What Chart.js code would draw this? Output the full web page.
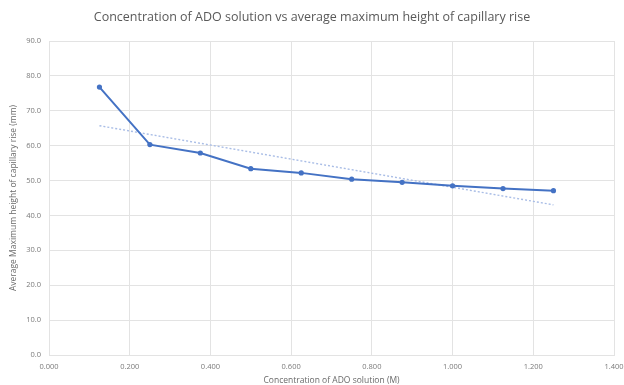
<!DOCTYPE html>
<html>
<head>
<meta charset="utf-8">
<script src="https://cdn.jsdelivr.net/npm/chart.js@4.4.1/dist/chart.umd.min.js"></script>
<style>
  html, body { margin: 0; padding: 0; background: #ffffff; }
  #wrap { width: 624px; height: 385px; }
</style>
</head>
<body>
<div id="wrap"><canvas id="chart" width="624" height="385"></canvas></div>
<script>
// Concentration of ADO solution (M)
const concentrations = [0.125, 0.25, 0.375, 0.5, 0.625, 0.75, 0.875, 1.0, 1.125, 1.25];
// Average maximum height of capillary rise (mm)
const avgHeights = [76.8, 60.3, 57.9, 53.4, 52.2, 50.4, 49.5, 48.5, 47.7, 47.1];
// Axis tick values
const xTicks = [0, 0.2, 0.4, 0.6, 0.8, 1.0, 1.2, 1.4];
const yTicks = [0, 10, 20, 30, 40, 50, 60, 70, 80, 90];

// Least-squares linear trendline through the measured points
function linearFit(xs, ys) {
  const n = xs.length;
  const mx = xs.reduce((a, b) => a + b, 0) / n;
  const my = ys.reduce((a, b) => a + b, 0) / n;
  let sxy = 0, sxx = 0;
  for (let i = 0; i < n; i++) {
    sxy += (xs[i] - mx) * (ys[i] - my);
    sxx += (xs[i] - mx) * (xs[i] - mx);
  }
  const slope = sxy / sxx;
  const intercept = my - slope * mx;
  return x => intercept + slope * x;
}
const fit = linearFit(concentrations, avgHeights);
const xFirst = concentrations[0];
const xLast = concentrations[concentrations.length - 1];
const trendPoints = [{ x: xFirst, y: fit(xFirst) }, { x: xLast, y: fit(xLast) }];

const measuredPoints = concentrations.map((x, i) => ({ x: x, y: avgHeights[i] }));

const tickColor = '#7a7a7a';
const gridColor = '#e3e3e3';

new Chart(document.getElementById('chart'), {
  type: 'scatter',
  data: {
    datasets: [
      {
        label: 'Average maximum height',
        data: measuredPoints,
        showLine: true,
        borderColor: '#4472C4',
        backgroundColor: '#4472C4',
        borderWidth: 2,
        pointRadius: 2.6,
        pointBorderWidth: 0,
        tension: 0
      },
      {
        label: 'Linear trend',
        data: trendPoints,
        showLine: true,
        borderColor: '#a9bde6',
        borderWidth: 1.4,
        borderDash: [2, 2],
        pointRadius: 0
      }
    ]
  },
  options: {
    responsive: false,
    animation: false,
    layout: { padding: { left: 0, right: 0, top: 0, bottom: 0 } },
    plugins: {
      legend: { display: false },
      tooltip: { enabled: false },
      title: {
        display: true,
        text: 'Concentration of ADO solution vs average maximum height of capillary rise',
        color: '#595959',
        font: { family: 'Open Sans', size: 12.5, weight: 'normal', lineHeight: 1.2 },
        padding: { top: 10, bottom: 16 }
      }
    },
    scales: {
      x: {
        type: 'linear',
        min: 0,
        max: 1.4,
        afterFit: s => { s.height = 30; s.paddingRight = 10; },
        afterBuildTicks: s => { s.ticks = xTicks.map(v => ({ value: v })); },
        ticks: {
          color: tickColor,
          font: { family: 'Open Sans', size: 7.5 },
          padding: 7,
          maxRotation: 0,
          callback: v => Number(v).toFixed(3)
        },
        grid: { color: gridColor, lineWidth: 1, drawTicks: false },
        border: { color: gridColor },
        title: {
          display: true,
          text: 'Concentration of ADO solution (M)',
          color: '#6a6a6a',
          font: { family: 'Open Sans', size: 8.5, lineHeight: 1.0 },
          padding: { top: 0, bottom: 0 }
        }
      },
      y: {
        type: 'linear',
        min: 0,
        max: 90,
        afterFit: s => { s.width = 49; },
        afterBuildTicks: s => { s.ticks = yTicks.map(v => ({ value: v })); },
        ticks: {
          color: tickColor,
          font: { family: 'Open Sans', size: 7.5 },
          padding: 8,
          callback: v => Number(v).toFixed(1)
        },
        grid: { color: gridColor, lineWidth: 1, drawTicks: false },
        border: { color: gridColor },
        title: {
          display: true,
          text: 'Average Maximum height of capillary rise (mm)',
          color: '#6a6a6a',
          font: { family: 'Open Sans', size: 8.5, lineHeight: 1.2 },
          padding: { top: 8, bottom: 0 }
        }
      }
    }
  }
});
</script>
</body>
</html>
